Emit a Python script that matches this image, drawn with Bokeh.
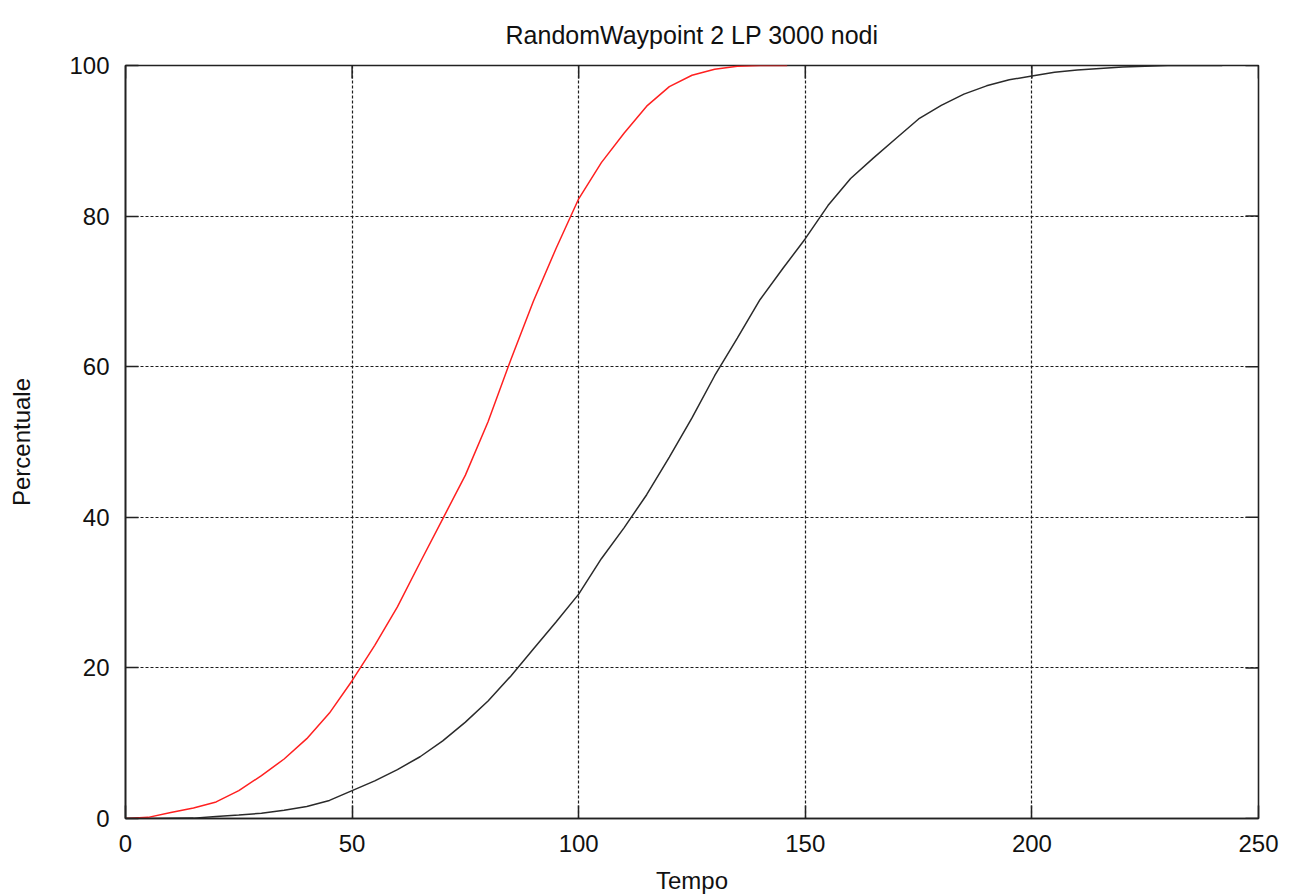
import math

from bokeh.plotting import figure
from bokeh.models import Range1d, FixedTicker
from bokeh.embed import file_html
from bokeh.resources import INLINE

# Cumulative percentage of nodes reached over time
tempo_rosso = [0, 5, 10, 15, 20, 25, 30, 35, 40, 45, 50, 55, 60, 65, 70,
               75, 80, 85, 90, 95, 100, 105, 110, 115, 120, 125, 130, 135, 140, 146]
perc_rosso = [0.0, 0.15, 0.8, 1.4, 2.2, 3.7, 5.7, 7.9, 10.6, 14.0, 18.3, 23.0, 28.1, 34.0, 39.8,
              45.6, 52.7, 60.9, 68.7, 75.7, 82.3, 87.1, 91.0, 94.6, 97.2, 98.7, 99.5, 99.9, 100.0, 100.0]

tempo_nero = [0, 5, 10, 15, 20, 25, 30, 35, 40, 45, 50, 55, 60, 65, 70, 75, 80, 85, 90, 95,
              100, 105, 110, 115, 120, 125, 130, 135, 140, 145, 150, 155, 160, 165, 170, 175,
              180, 185, 190, 195, 200, 205, 210, 215, 220, 225, 230, 235, 242]
perc_nero = [0.0, 0.0, 0.02, 0.05, 0.25, 0.45, 0.7, 1.1, 1.6, 2.4, 3.7, 5.0, 6.5, 8.2, 10.3,
             12.8, 15.6, 18.9, 22.5, 26.1, 29.8, 34.5, 38.6, 43.0, 48.0, 53.2, 58.8, 63.8, 68.9,
             73.0, 77.0, 81.4, 85.0, 87.7, 90.3, 92.9, 94.7, 96.2, 97.3, 98.1, 98.6, 99.1, 99.4,
             99.6, 99.8, 99.9, 100.0, 100.0, 100.0]

x_ticks = [0, 50, 100, 150, 200, 250]
y_ticks = [0, 20, 40, 60, 80, 100]
x_max = x_ticks[-1]
y_max = y_ticks[-1]

FONT = "Liberation Sans"
INK = "#222222"

p = figure(frame_width=1133, frame_height=753,
           min_border_left=125, min_border_right=34,
           min_border_top=65, min_border_bottom=76,
           x_range=Range1d(0, x_max), y_range=Range1d(0, y_max),
           output_backend="svg", toolbar_location=None,
           title="RandomWaypoint 2 LP 3000 nodi")

x_axis = p.below[0]
y_axis = p.left[0]

p.title.align = "center"
p.title.text_font = FONT
p.title.text_font_style = "normal"
p.title.text_font_size = "25px"
p.title.text_color = "#111111"
p.title.standoff = 34

p.outline_line_color = INK
p.outline_line_width = 1.6
p.outline_line_alpha = 1.0

for ax, ticks in ((x_axis, x_ticks), (y_axis, y_ticks)):
    ax.ticker = FixedTicker(ticks=ticks)
    ax.minor_tick_line_color = None
    ax.major_tick_in = 13
    ax.major_tick_out = 0
    ax.major_tick_line_color = INK
    ax.major_tick_line_width = 1.5
    ax.axis_line_color = INK
    ax.axis_line_width = 1.6
    ax.major_label_text_font = FONT
    ax.major_label_text_color = "#111111"
    ax.major_label_text_font_size = "24px"
    ax.axis_label_text_font = FONT
    ax.axis_label_text_font_style = "normal"
    ax.axis_label_text_font_size = "24px"
    ax.axis_label_text_color = "#111111"

x_axis.axis_label = "Tempo"
y_axis.axis_label = "Percentuale"
x_axis.major_label_standoff = 16
y_axis.major_label_standoff = 16
x_axis.axis_label_standoff = 12
y_axis.axis_label_standoff = 31

p.xgrid.ticker = FixedTicker(ticks=x_ticks[1:-1])
p.ygrid.ticker = FixedTicker(ticks=y_ticks[1:-1])
for g in (p.xgrid, p.ygrid):
    g.grid_line_color = "#111111"
    g.grid_line_dash = "3 2"
    g.grid_line_width = 1.2
    g.grid_line_alpha = 0.95

# mirrored inward tick marks on the top and right edges (half of each dash is clipped by the frame)
p.scatter(x_ticks, [y_max] * len(x_ticks), marker="dash", size=26, angle=math.pi / 2,
          line_color=INK, line_width=1.5)
p.scatter([x_max] * len(y_ticks), y_ticks, marker="dash", size=26,
          line_color=INK, line_width=1.5)

p.line(tempo_rosso, perc_rosso, line_color="#ff2020", line_width=1.5)
p.line(tempo_nero, perc_nero, line_color="#2a2a2a", line_width=1.5)

open("out.html", "w").write(file_html(p, INLINE))
